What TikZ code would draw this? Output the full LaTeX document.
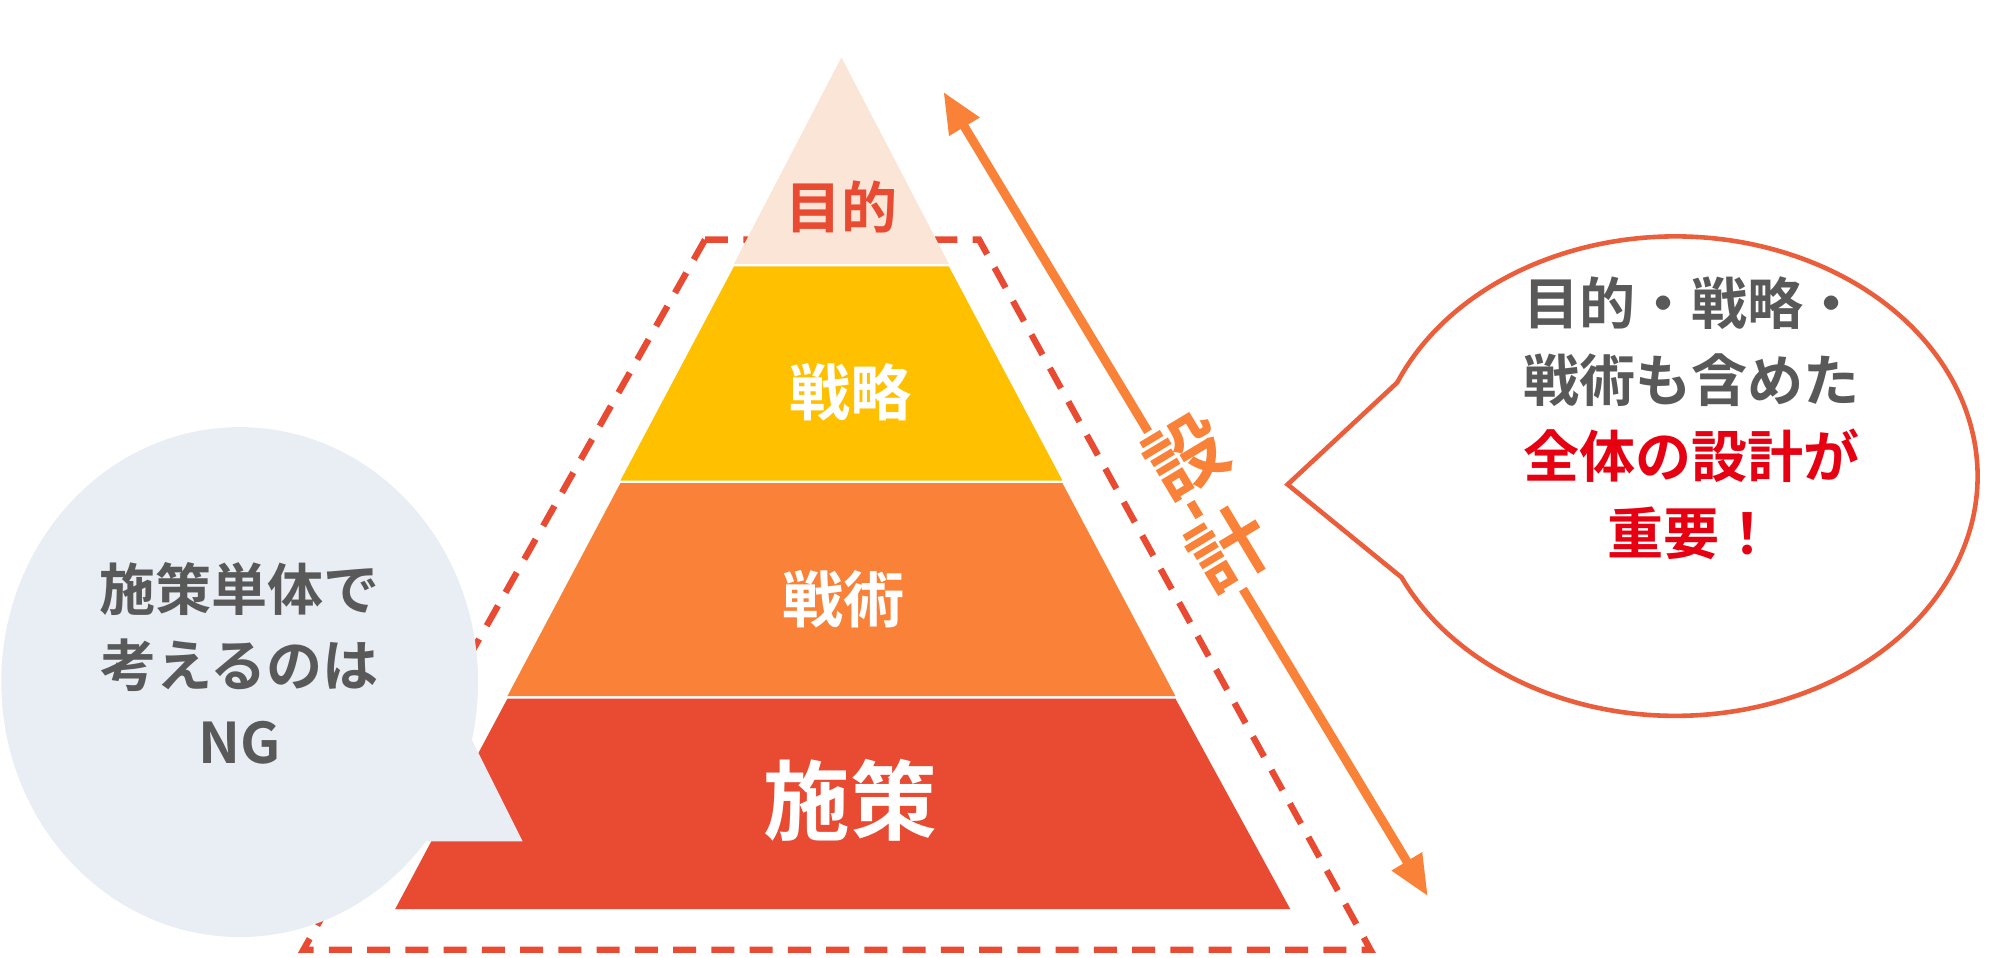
\documentclass[tikz,border=0pt]{standalone}
\usepackage{fontspec}
\newfontfamily\jp{Noto Sans CJK JP}[BoldFont={Noto Sans CJK JP Bold}]
\usetikzlibrary{arrows.meta}
\definecolor{cTop}{HTML}{FBE5D6}
\definecolor{cStr}{HTML}{FFC000}
\definecolor{cTac}{HTML}{F98238}
\definecolor{cMes}{HTML}{E84B32}
\definecolor{cGray}{HTML}{595959}
\definecolor{cBub}{HTML}{E9EDF4}
\definecolor{cLine}{HTML}{EB5E3C}
\definecolor{cRed}{HTML}{E60012}
\begin{document}
\begin{tikzpicture}[x=0.5pt,y=-0.5pt,
  lbl/.style={font=\jp\bfseries, inner sep=0pt}]
\useasboundingbox (0,0) rectangle (1568,751);
% dashed frame
\draw[cMes, line width=2.5pt, dash pattern=on 9pt off 6pt] (553,188) -- (768,188) -- (1075,745) -- (238,745) -- cycle;
% pyramid bands
\fill[cTop] (660,45) -- (575.7,207) -- (744.3,207) -- cycle;
\fill[cStr] (575.7,209) -- (744.3,209) -- (833.4,377) -- (486.6,377) -- cycle;
\fill[cTac] (486.6,379) -- (833.4,379) -- (922,546) -- (398,546) -- cycle;
\fill[cMes] (398,548) -- (922,548) -- (1012,713) -- (310,713) -- cycle;
\node[lbl, text=cMes, font=\jp\bfseries\fontsize{22}{24}\selectfont] (t1) at (660,162) {目的};
\node[lbl, text=white, font=\jp\bfseries\fontsize{24}{26}\selectfont] (t2) at (667,308) {戦略};
\node[lbl, text=white, font=\jp\bfseries\fontsize{24}{26}\selectfont] (t3) at (662,470) {戦術};
\node[lbl, text=white, font=\jp\bfseries\fontsize{34}{36}\selectfont] (t4) at (667,628) {施策};
% arrow
\coordinate (a1) at (740,72);
\coordinate (a2) at (1120,703);
\draw[cTac, line width=3.5pt, {Triangle[length=16pt,width=13pt]}-{Triangle[length=16pt,width=13pt]}] (a1) -- (a2);
\node[lbl, text=cTac, fill=white, inner sep=2pt, rotate=31, font=\jp\bfseries\fontsize{31}{33}\selectfont] (s1) at (931,358) {設};
\node[lbl, text=cTac, fill=white, inner sep=2pt, rotate=31, font=\jp\bfseries\fontsize{31}{33}\selectfont] (s2) at (964,430) {計};
% right bubble
\draw[cLine, fill=white, line width=1.8pt] (1096,300) arc[start angle=-157, end angle=-205+360, x radius=237, y radius=188] -- (1010,380) -- cycle;
\node[lbl, text=cGray, align=center, font=\jp\bfseries\fontsize{22}{30}\selectfont] (rb) at (1327,328)
  {目的・戦略・\\戦術も含めた\\{\color{cRed}全体の設計が}\\{\color{cRed}重要！}};
% left bubble
\fill[cBub] (188,535) ellipse[x radius=187, y radius=200];
\fill[cBub] (340,520) -- (410,660) -- (320,660) -- cycle;
\node[lbl, text=cGray, align=center, font=\jp\bfseries\fontsize{22}{30}\selectfont] (lb) at (188,520)
  {施策単体で\\考えるのは\\NG};
\end{tikzpicture}
\end{document}
